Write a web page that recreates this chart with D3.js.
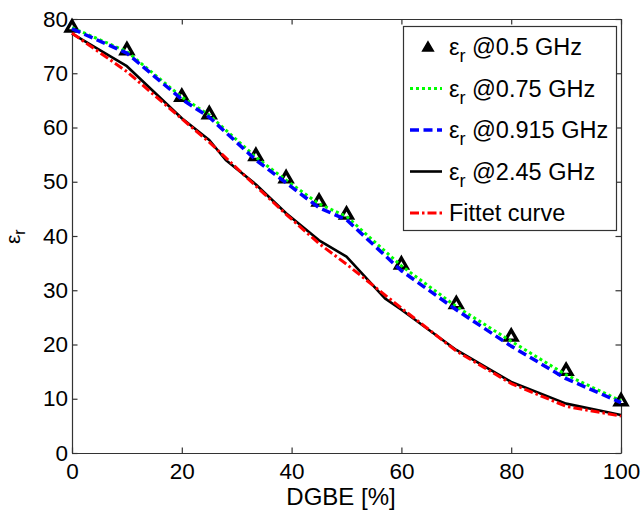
<!DOCTYPE html>
<html>
<head>
<meta charset="utf-8">
<script src="https://cdn.jsdelivr.net/npm/d3@7"></script>
<style>
  html, body { margin: 0; padding: 0; background: #fff; }
  svg text { font-family: "Liberation Sans", Arial, sans-serif; fill: #000; }
</style>
</head>
<body>
<svg id="chart" width="642" height="511"></svg>
<script>
// ---- data ----
const dgbe = [0, 10, 20, 25, 33.5, 39, 45, 50, 60, 70, 80, 90, 100];
const eps05 = [78.6, 74.4, 65.8, 62.6, 54.9, 50.8, 46.5, 44.1, 34.9, 27.6, 21.6, 15.3, 9.7];
const eps075 = [78.4, 74.0, 65.6, 62.3, 54.5, 50.3, 45.9, 43.6, 34.5, 27.0, 20.6, 14.4, 9.6];
const eps0915 = [78.2, 73.7, 65.2, 61.9, 54.0, 49.8, 45.2, 43.0, 33.6, 26.4, 19.7, 13.7, 9.3];
const dgbe245 = [0, 10, 20, 25, 28, 33.5, 39, 45, 50, 57, 60, 70, 80, 90, 100];
const eps245 = [77.3, 71.3, 61.7, 57.7, 54.0, 49.5, 44.2, 39.2, 36.2, 28.5, 26.4, 19.0, 13.1, 9.1, 7.0];
const epsFit = [77.4, 70.3, 61.6, 57.3, 49.2, 44.0, 38.6, 34.8, 26.7, 18.8, 12.8, 8.6, 6.8];
const xTicks = [0, 20, 40, 60, 80, 100];
const yTicks = [0, 10, 20, 30, 40, 50, 60, 70, 80];
const legendLabels = ["@0.5 GHz", "@0.75 GHz", "@0.915 GHz", "@2.45 GHz", "Fittet curve"];

// ---- layout ----
const L = 72, R = 621, T = 19, B = 453;
const svg = d3.select("#chart");
const x = d3.scaleLinear().domain([0, 100]).range([L, R]);
const y = d3.scaleLinear().domain([0, 80]).range([B, T]);
const axisColor = "#333";

function styleAxis(g) {
  g.selectAll("path.domain").attr("stroke", axisColor).attr("stroke-width", 1.2);
  g.selectAll(".tick line").attr("stroke", axisColor).attr("stroke-width", 1.2);
  g.selectAll(".tick text").attr("font-size", 22.5).attr("font-family", '"Liberation Sans", Arial, sans-serif').attr("fill", "#000");
}

svg.append("g").attr("transform", `translate(0,${B})`)
  .call(d3.axisBottom(x).tickValues(xTicks).tickSizeInner(-5.5).tickSizeOuter(0).tickPadding(10).tickFormat(d3.format("d")))
  .call(styleAxis);
svg.append("g").attr("transform", `translate(0,${T})`)
  .call(d3.axisTop(x).tickValues(xTicks).tickSizeInner(-5.5).tickSizeOuter(0).tickFormat(""))
  .call(styleAxis);
svg.append("g").attr("transform", `translate(${L},0)`)
  .call(d3.axisLeft(y).tickValues(yTicks).tickSizeInner(-5.5).tickSizeOuter(0).tickPadding(4).tickFormat(d3.format("d")))
  .call(styleAxis);
svg.append("g").attr("transform", `translate(${R},0)`)
  .call(d3.axisRight(y).tickValues(yTicks).tickSizeInner(-5.5).tickSizeOuter(0).tickFormat(""))
  .call(styleAxis);

// ---- series ----
const lineGen = d3.line().x(d => x(d[0])).y(d => y(d[1]));
const tri = d3.symbol().type(d3.symbolTriangle).size(58);
const triSmall = d3.symbol().type(d3.symbolTriangle).size(50);

const plot = svg.append("g");
plot.selectAll("path.tri").data(dgbe.map((d, i) => [d, eps05[i]])).enter()
  .append("path").attr("class", "tri")
  .attr("d", tri)
  .attr("transform", d => `translate(${x(d[0])},${y(d[1]) + 1})`)
  .attr("fill", "#fff").attr("stroke", "#000").attr("stroke-width", 3.4)
  .attr("stroke-linejoin", "miter");

const series = [
  { xs: dgbe, ys: eps075, color: "#00ff00", dash: "3,3", width: 3 },
  { xs: dgbe, ys: eps0915, color: "#0000ff", dash: "9,4.5", width: 3.5 },
  { xs: dgbe245, ys: eps245, color: "#000000", dash: null, width: 2.6 },
  { xs: dgbe, ys: epsFit, color: "#ff0000", dash: "9,3,2.5,3", width: 3 }
];
series.forEach(s => {
  plot.append("path")
    .attr("d", lineGen(s.xs.map((d, i) => [d, s.ys[i]])))
    .attr("fill", "none").attr("stroke", s.color).attr("stroke-width", s.width)
    .attr("stroke-dasharray", s.dash).attr("stroke-linejoin", "round");
});

// ---- axis labels ----
svg.append("text").attr("x", 341).attr("y", 505).attr("text-anchor", "middle")
  .attr("font-size", 24).text("DGBE [%]");
const yl = svg.append("text").attr("transform", "translate(20,244) rotate(-90)")
  .attr("text-anchor", "start").attr("font-size", 21);
yl.append("tspan").text("ε");
yl.append("tspan").attr("font-size", 16).attr("dy", 5).text("r");

// ---- legend ----
const lg = svg.append("g");
lg.append("rect").attr("x", 403.5).attr("y", 26.5).attr("width", 213).attr("height", 204)
  .attr("fill", "#fff").attr("stroke", axisColor).attr("stroke-width", 1.2);
const rowY = [47, 88.5, 130, 171.5, 213];
legendLabels.forEach((lab, i) => {
  const cy = rowY[i];
  if (i === 0) {
    lg.append("path").attr("d", triSmall).attr("transform", `translate(428,${cy + 1})`)
      .attr("fill", "#000").attr("stroke", "#000").attr("stroke-width", 1.5);
  } else {
    const s = series[i - 1];
    lg.append("line").attr("x1", 410).attr("x2", 442).attr("y1", cy).attr("y2", cy)
      .attr("stroke", s.color).attr("stroke-width", s.width).attr("stroke-dasharray", s.dash);
  }
  const t = lg.append("text").attr("x", 449).attr("y", cy + 8).attr("font-size", 23.5);
  if (i < 4) {
    t.append("tspan").text("ε");
    t.append("tspan").attr("font-size", 18).attr("dy", 7).text("r");
    t.append("tspan").attr("dy", -7).text(" " + lab);
  } else {
    t.text(lab);
  }
});
</script>
</body>
</html>
